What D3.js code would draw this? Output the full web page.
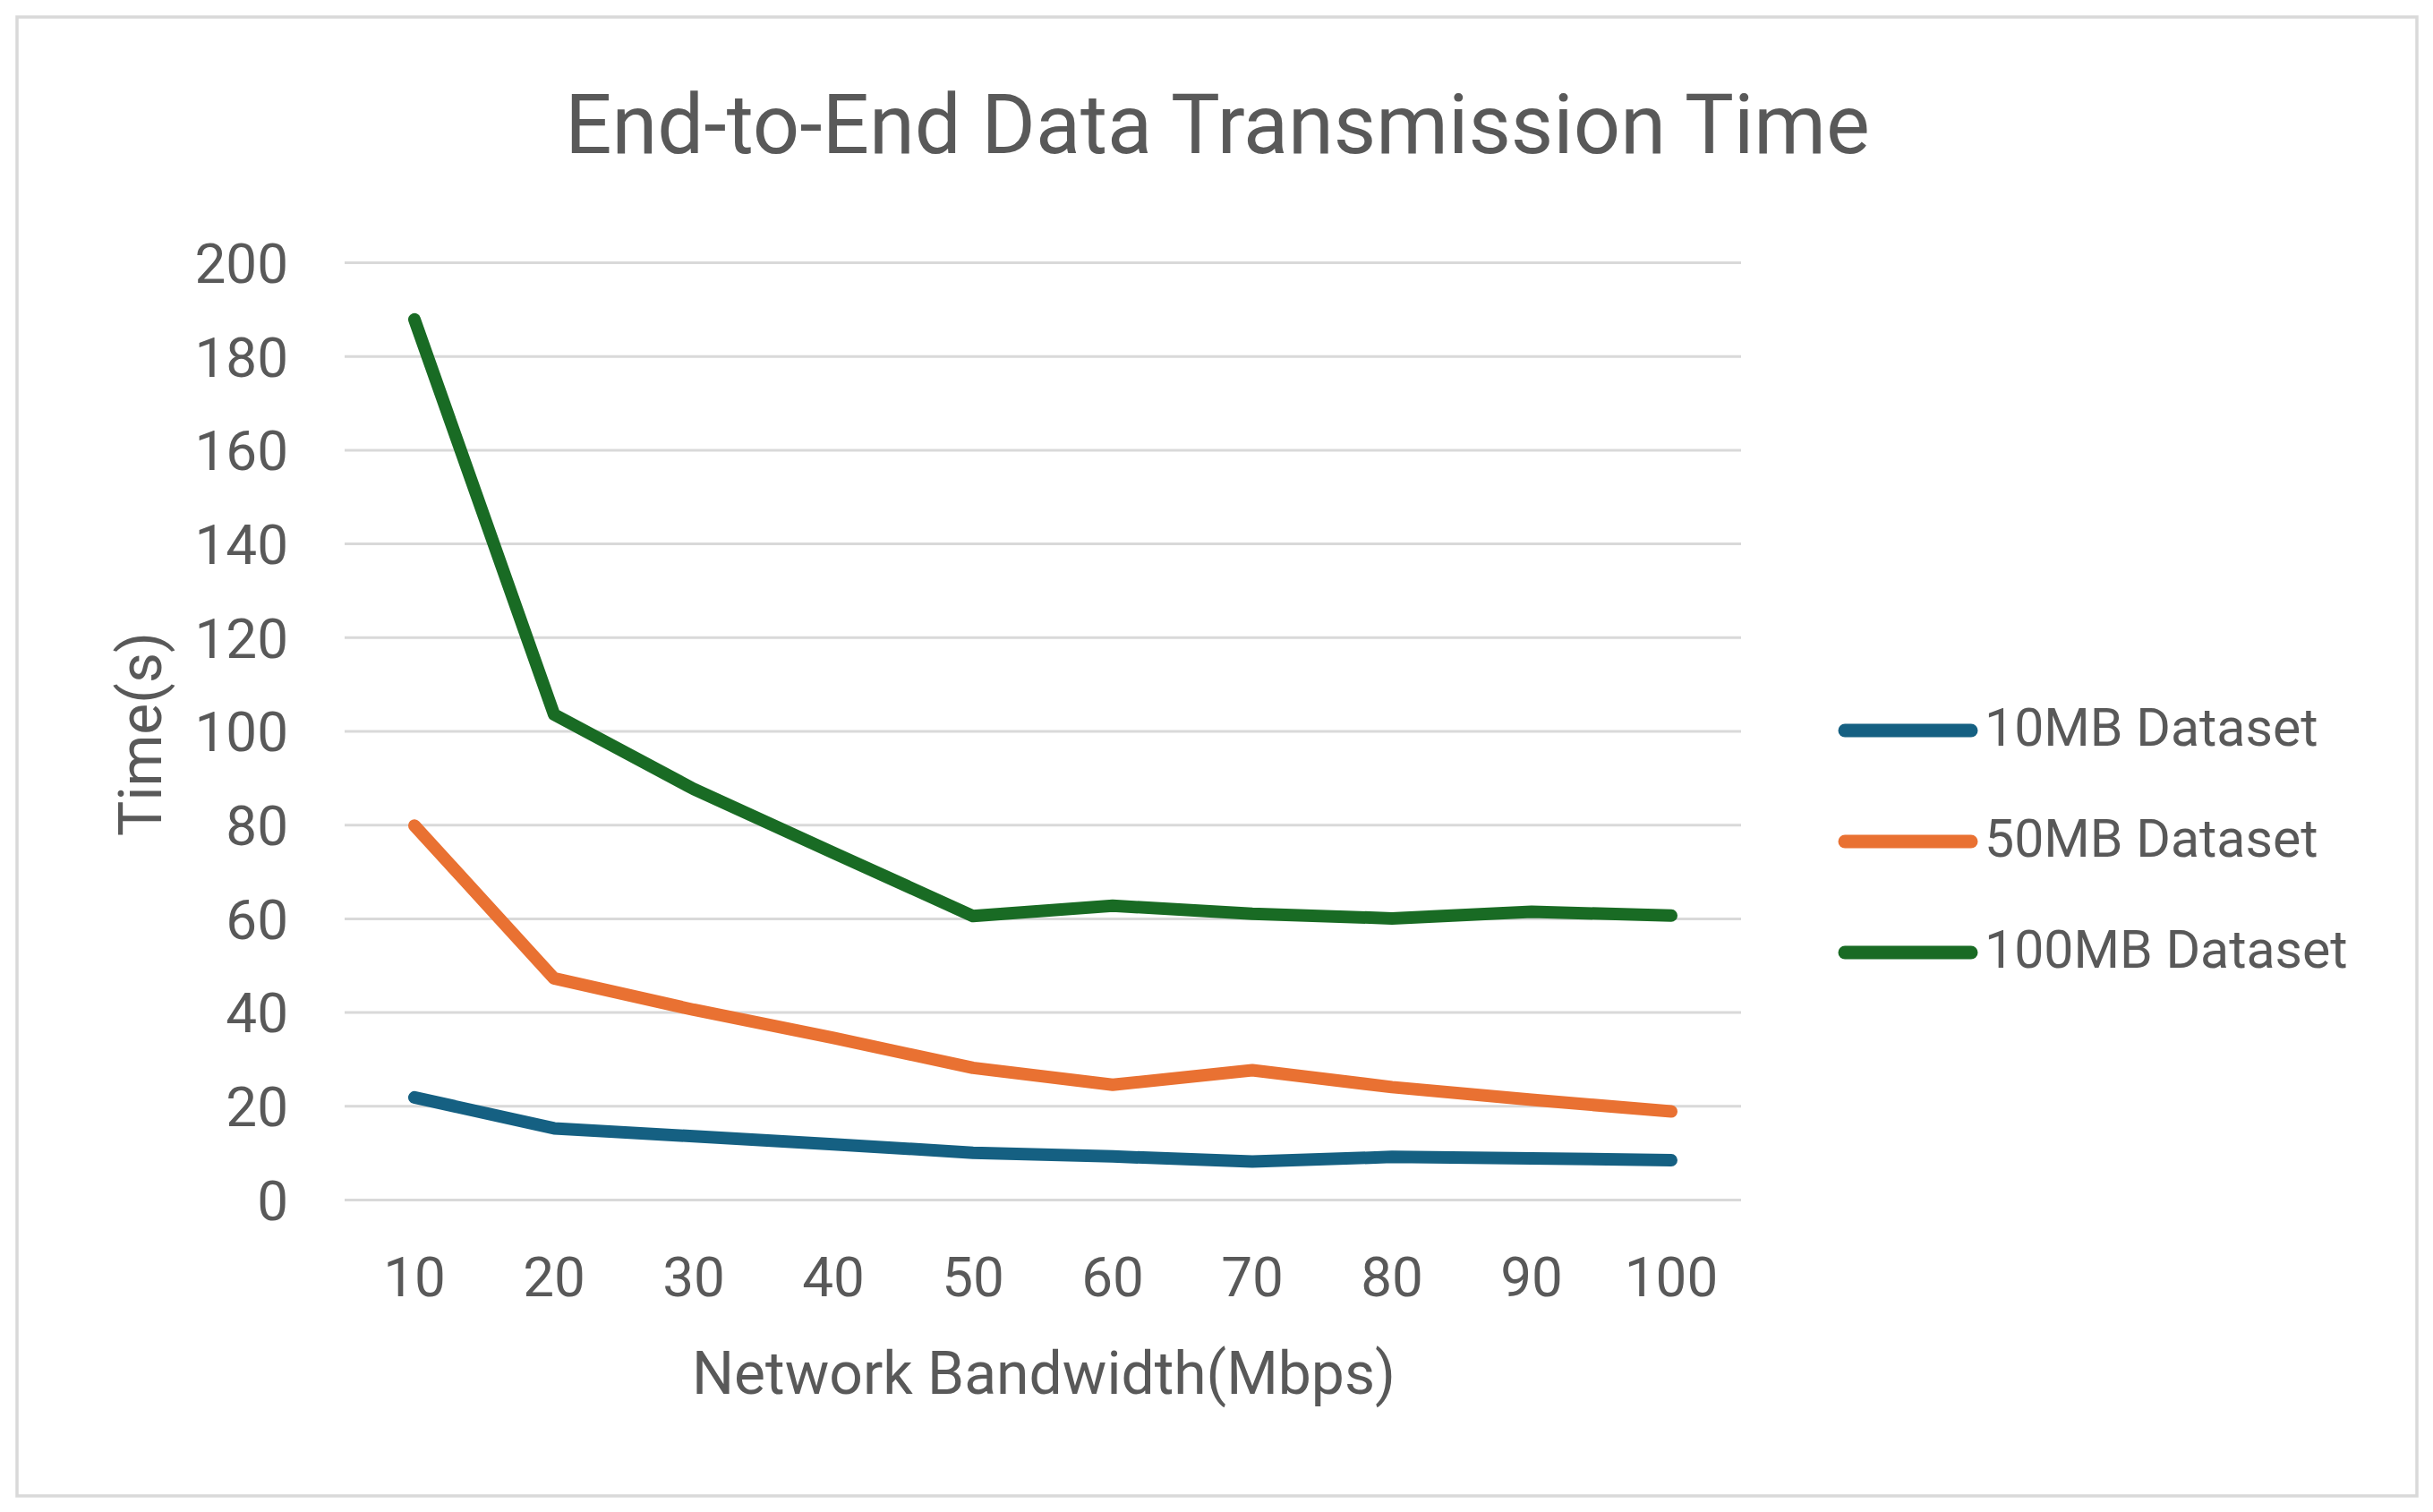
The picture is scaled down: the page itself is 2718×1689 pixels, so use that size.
<!DOCTYPE html>
<html>
<head>
<meta charset="utf-8">
<script src="https://cdn.jsdelivr.net/npm/d3@7"></script>
<style>
  html, body { margin: 0; padding: 0; background: #ffffff; }
  svg { display: block; }
  text { font-family: Roboto, "Open Sans", sans-serif; fill: #595959; }
</style>
</head>
<body>
<script>
const categories = ["10", "20", "30", "40", "50", "60", "70", "80", "90", "100"];
const seriesNames = ["10MB Dataset", "50MB Dataset", "100MB Dataset"];
const values10MB  = [21.8, 15.2, 13.5, 11.8, 10.0, 9.2, 8.1, 9.1, 8.8, 8.4];
const values50MB  = [79.8, 47.2, 40.5, 34.5, 28.1, 24.5, 27.6, 24.0, 21.3, 18.8];
const values100MB = [187.8, 103.5, 87.6, 74.0, 60.5, 62.7, 61.0, 60.0, 61.4, 60.6];
const yTicks = [0, 20, 40, 60, 80, 100, 120, 140, 160, 180, 200];
const colors = ["#156082", "#E97132", "#196B24"];
const titleText = "End-to-End Data Transmission Time";
const xTitle = "Network Bandwidth(Mbps)";
const yTitle = "Time(s)";

const W = 2718, H = 1689;
const plot = { left: 385, right: 1945, top: 293, bottom: 1340 };

const svg = d3.select("body").append("svg").attr("width", W).attr("height", H);

svg.append("rect").attr("x", 0).attr("y", 0).attr("width", W).attr("height", H).attr("fill", "#fff");
svg.append("rect").attr("x", 19).attr("y", 19).attr("width", 2681).attr("height", 1652)
  .attr("fill", "#fff").attr("stroke", "#d9d9d9").attr("stroke-width", 3.5);

const x = d3.scaleBand().domain(categories).range([plot.left, plot.right]).padding(0);
const y = d3.scaleLinear().domain([0, 200]).range([plot.bottom, plot.top]);

// gridlines + y labels
const yAxis = d3.axisLeft(y).tickValues(yTicks).tickSize(-(plot.right - plot.left)).tickPadding(63).tickFormat(d3.format("d"));
const gy = svg.append("g").attr("transform", `translate(${plot.left},0)`).call(yAxis);
gy.select(".domain").remove();
gy.selectAll(".tick line").attr("stroke", "#d9d9d9").attr("stroke-width", 3);
gy.selectAll(".tick text").attr("font-size", 62).attr("fill", "#595959")
  .attr("font-family", "Roboto, sans-serif").attr("dy", "0.36em");

// x axis labels
const xAxis = d3.axisBottom(x).tickSize(0).tickPadding(0);
const gx = svg.append("g").attr("transform", `translate(0,${plot.bottom})`).call(xAxis);
gx.select(".domain").remove();
gx.selectAll(".tick text").attr("font-size", 62).attr("fill", "#595959")
  .attr("font-family", "Roboto, sans-serif").attr("dy", null).attr("y", 108);

// lines
const allSeries = [values10MB, values50MB, values100MB];
const line = d3.line().x((d, i) => x(categories[i]) + x.bandwidth() / 2).y(d => y(d));
allSeries.forEach((vals, k) => {
  svg.append("path").datum(vals).attr("d", line)
    .attr("fill", "none").attr("stroke", colors[k]).attr("stroke-width", 14)
    .attr("stroke-linejoin", "round").attr("stroke-linecap", "round");
});

// title
svg.append("text").attr("x", 1360).attr("y", 171).attr("text-anchor", "middle")
  .attr("font-size", 92).text(titleText);

// axis titles
svg.append("text").attr("x", 1166).attr("y", 1557).attr("text-anchor", "middle")
  .attr("font-size", 66).text(xTitle);
svg.append("text").attr("transform", "translate(180,820) rotate(-90)").attr("text-anchor", "middle")
  .attr("font-size", 66).text(yTitle);

// legend
const legendY = [816, 940, 1064];
seriesNames.forEach((name, k) => {
  svg.append("line").attr("x1", 2061).attr("x2", 2202).attr("y1", legendY[k]).attr("y2", legendY[k])
    .attr("stroke", colors[k]).attr("stroke-width", 15).attr("stroke-linecap", "round");
  svg.append("text").attr("x", 2217).attr("y", legendY[k] + 17).attr("font-size", 59).text(name);
});
</script>
</body>
</html>
